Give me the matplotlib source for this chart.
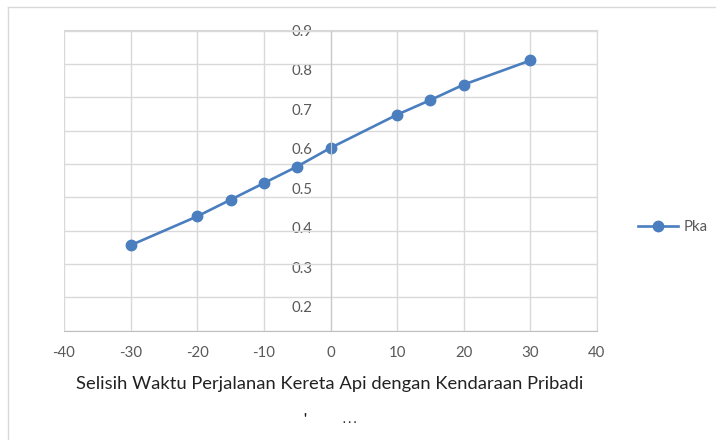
import numpy as np
import matplotlib
matplotlib.use("Agg")
import matplotlib.pyplot as plt
from matplotlib.lines import Line2D

# data
selisih = [-30, -20, -15, -10, -5, 0, 10, 15, 20, 30]
pka = [0.356, 0.429, 0.471, 0.513, 0.555, 0.602, 0.686, 0.723, 0.762, 0.823]
x_ticks = [-40, -30, -20, -10, 0, 10, 20, 30, 40]
y_ticks = [0.2, 0.3, 0.4, 0.5, 0.6, 0.7, 0.8, 0.9]
x_title = "Selisih Waktu Perjalanan Kereta Api dengan Kendaraan Pribadi"
series_name = "Pka"

plt.rcParams['font.family'] = ['Lato', 'DejaVu Sans']

blue = "#4a7ebf"
grid_c = "#d9d9d9"
txt_c = "#595959"

fig = plt.figure(figsize=(7.16, 4.4), dpi=100)
ax = fig.add_axes([64 / 716, 1 - 330.7 / 440, 533 / 716, 300.7 / 440])

ax.plot(selisih, pka, color=blue, lw=1.9, marker="o", ms=7.5,
        markeredgecolor=blue, markerfacecolor=blue, label=series_name)

ax.set_xlim(-40, 40)
ymin, ymax = 0.140, 0.898
ax.set_ylim(ymin, ymax)

ax.set_xticks(x_ticks)
ax.set_xticklabels([str(v) for v in x_ticks])
ax.set_yticks(y_ticks)
ax.set_yticklabels([f"{v:.1f}" for v in y_ticks])
# horizontal gridlines are evenly spaced in the frame (10 lines)
ax.set_yticks(np.linspace(ymin, ymax, 10), minor=True)

ax.grid(True, axis="x", color=grid_c, lw=1)
ax.grid(True, axis="y", which="minor", color=grid_c, lw=1)
ax.grid(False, axis="y", which="major")
ax.set_axisbelow(True)

ax.tick_params(axis="x", length=0, pad=11, labelsize=10.8, labelcolor=txt_c)
ax.tick_params(axis="y", which="both", length=0, pad=13, labelsize=10.8,
               labelcolor=txt_c)

ax.spines["left"].set_position(("data", 0))
ax.spines["left"].set_color("#c8c8c8")
for s in ["top", "right"]:
    ax.spines[s].set_color(grid_c)
ax.spines["bottom"].set_color("#bfbfbf")

fig.text(330 / 716, 1 - 384 / 440, x_title, ha="center", va="center",
         fontsize=13.2, color="#222222")
fig.text(305 / 716, 1 - 419 / 440, "'", ha="center", va="center",
         fontsize=10, fontweight="bold", color="#222222")
fig.text(350 / 716, 1 - 419 / 440, ". . .", ha="center", va="center",
         fontsize=8, fontweight="bold", color="#222222")

fig.legend(loc="center left", bbox_to_anchor=(624 / 716, 1 - 227 / 440),
           frameon=False, handlelength=2.7, handletextpad=0.4,
           fontsize=10.8, labelcolor=txt_c)

# outer chart frame (partly cut off in the reference)
fig.add_artist(Line2D([8 / 716, 1], [1 - 7 / 440, 1 - 7 / 440],
                      transform=fig.transFigure, color=grid_c, lw=1))
fig.add_artist(Line2D([8 / 716, 8 / 716], [0, 1 - 7 / 440],
                      transform=fig.transFigure, color=grid_c, lw=1))

fig.savefig("out.png", dpi=100)
